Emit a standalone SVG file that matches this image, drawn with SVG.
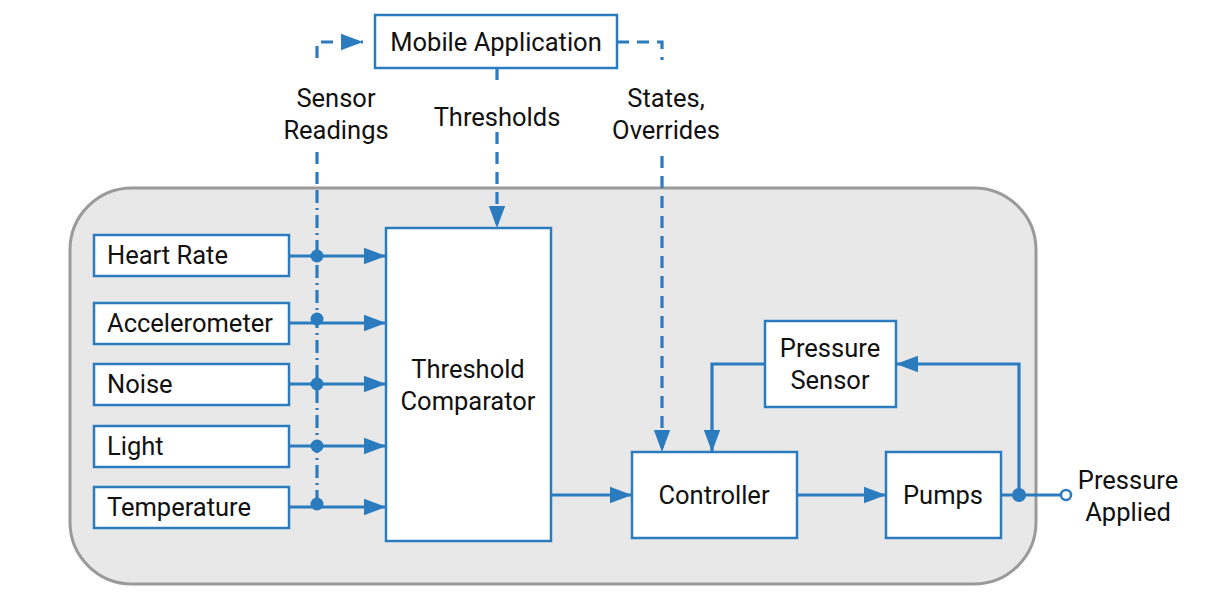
<svg xmlns="http://www.w3.org/2000/svg" width="1206" height="610" viewBox="0 0 1206 610">
<style>
.box{fill:#fff;stroke:#2b7bbf;stroke-width:2.5}
.t{font-family:Roboto,"Liberation Sans",sans-serif;font-size:25.5px;fill:#111}
.c{text-anchor:middle}
.ln{fill:none;stroke:#2b7bbf;stroke-width:3.2}
.dash{stroke-dasharray:12,8}
.dd{stroke-dasharray:13,5,2,5}
.dot{fill:#2b7bbf}
</style>
<defs>
<marker id="ah" markerWidth="7" markerHeight="6" refX="7" refY="3" orient="auto" markerUnits="strokeWidth">
<path d="M0,0.4 L7,3 L0,5.6 z" fill="#2b7bbf"/>
</marker>
</defs>
<rect x="70" y="188" width="966" height="396" rx="62" ry="62" fill="#e8e8e8" stroke="#9a9a9a" stroke-width="3"/>
<g id="connectors">
<path class="ln dash" d="M317,58 L317,42 L363,42" marker-end="url(#ah)"/>
<path class="ln dash" d="M317,152 L317,190"/>
<path class="ln dd" d="M317,190 L317,503"/>
<path class="ln dash" d="M497,68 L497,80"/>
<path class="ln dash" d="M497,132 L497,228" marker-end="url(#ah)"/>
<path class="ln dash" d="M617,42 L662,42 L662,60"/>
<path class="ln dash" d="M662,156 L662,452" marker-end="url(#ah)"/>
<path class="ln" d="M289,256 L386,256" marker-end="url(#ah)"/>
<path class="ln" d="M289,323 L386,323" marker-end="url(#ah)"/>
<path class="ln" d="M289,384 L386,384" marker-end="url(#ah)"/>
<path class="ln" d="M289,446 L386,446" marker-end="url(#ah)"/>
<path class="ln" d="M289,507 L386,507" marker-end="url(#ah)"/>
<circle class="dot" cx="317" cy="256" r="6.5"/>
<circle class="dot" cx="317" cy="319" r="6.5"/>
<circle class="dot" cx="317" cy="384" r="6.5"/>
<circle class="dot" cx="317" cy="446" r="6.5"/>
<circle class="dot" cx="317" cy="504" r="6.5"/>
<path class="ln" d="M551,495 L632,495" marker-end="url(#ah)"/>
<path class="ln" d="M797,495 L886,495" marker-end="url(#ah)"/>
<path class="ln" d="M1001,495 L1061,495"/>
<path class="ln" d="M1019,495 L1019,364 L896,364" marker-end="url(#ah)"/>
<path class="ln" d="M765,364 L712,364 L712,452" marker-end="url(#ah)"/>
<circle class="dot" cx="1019" cy="495" r="7"/>
<circle cx="1066" cy="495" r="5" fill="#fff" stroke="#2b7bbf" stroke-width="2.5"/>
<text class="t c" x="336" y="107">Sensor</text>
<text class="t c" x="336" y="139">Readings</text>
<text class="t c" x="497" y="126">Thresholds</text>
<text class="t c" x="666" y="107">States,</text>
<text class="t c" x="666" y="139">Overrides</text>
<text class="t c" x="1128" y="489">Pressure</text>
<text class="t c" x="1128" y="521">Applied</text>
</g>
<g id="mobile"><rect class="box" x="375" y="15" width="242" height="53"/><text class="t c" x="496" y="51">Mobile Application</text></g>
<g id="heart"><rect class="box" x="94" y="235" width="195" height="41"/><text class="t" x="107" y="264">Heart Rate</text></g>
<g id="accel"><rect class="box" x="94" y="303" width="195" height="41"/><text class="t" x="107" y="332">Accelerometer</text></g>
<g id="noise"><rect class="box" x="94" y="364" width="195" height="41"/><text class="t" x="107" y="393">Noise</text></g>
<g id="light"><rect class="box" x="94" y="426" width="195" height="41"/><text class="t" x="107" y="455">Light</text></g>
<g id="temp"><rect class="box" x="94" y="487" width="195" height="41"/><text class="t" x="107" y="516">Temperature</text></g>
<g id="comparator"><rect class="box" x="386" y="228" width="165" height="313"/><text class="t c" x="468" y="378">Threshold</text><text class="t c" x="468" y="410">Comparator</text></g>
<g id="controller"><rect class="box" x="632" y="452" width="165" height="86"/><text class="t c" x="714" y="504">Controller</text></g>
<g id="pumps"><rect class="box" x="886" y="452" width="115" height="86"/><text class="t c" x="943" y="504">Pumps</text></g>
<g id="psensor"><rect class="box" x="765" y="321" width="131" height="86"/><text class="t c" x="830" y="357">Pressure</text><text class="t c" x="830" y="389">Sensor</text></g>
</svg>
